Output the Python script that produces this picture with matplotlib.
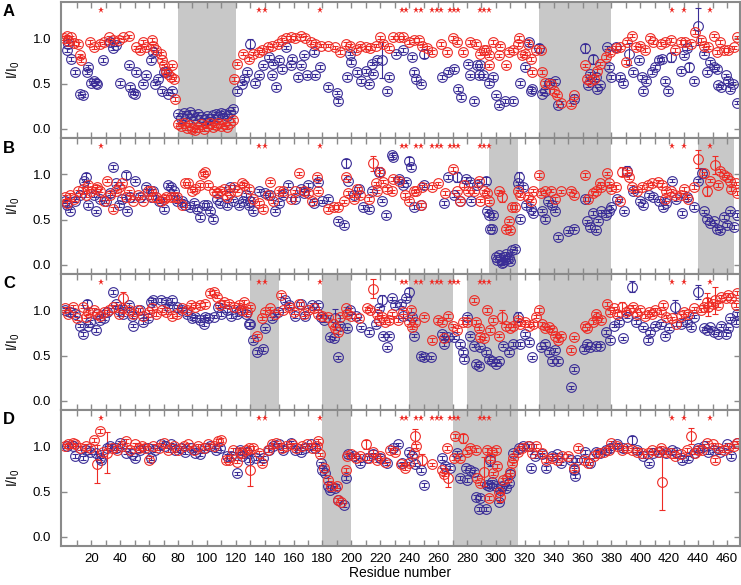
import numpy as np
import matplotlib
matplotlib.use('Agg')
import matplotlib.pyplot as plt

plt.rcParams['font.family'] = ['Liberation Sans', 'DejaVu Sans']
plt.rcParams['mathtext.default'] = 'regular'

blue = '#3a2d96'
red = '#ee2b25'
grey = '#c8c8c8'
frame = '#8a8a8a'

# residues marked with an asterisk (same in every panel)
star_res = [27, 136, 140, 178, 235, 238, 245, 248, 256, 259, 262, 268, 271,
            274, 289, 292, 295, 422, 430, 448]
star_y = 1.31

# shaded residue ranges
shade_A = [(80, 120), (330, 380)]
shade_B = [(295, 315), (330, 380), (440, 465)]
shade_C = [(130, 150), (180, 200), (240, 270), (280, 315), (330, 380)]
shade_D = [(180, 200), (270, 315)]

# ---------------- panel A ----------------
a_blue_res = [3, 4, 6, 9, 12, 14, 17, 18, 20, 22, 23, 24, 28, 33, 35, 37, 40, 46, 47, 49, 50, 51, 56, 58, 61, 63, 64, 66, 69, 70, 72, 73, 76,
              80, 82, 84, 86, 88, 90, 92, 94, 96, 98, 100, 102, 104, 106, 108, 110, 112, 114, 116, 118,
              121, 124, 126, 128, 130, 133, 136, 139, 143, 145, 146, 148, 150, 152, 155, 158, 159, 163, 165, 167, 169, 174, 175, 178,
              184, 190, 191, 197, 199, 200, 204, 207, 210, 212, 214, 215, 218, 221, 225, 226, 231, 236, 242, 243, 245, 248, 250,
              263, 267, 271, 274, 276, 281, 282, 285, 287, 288, 289, 291, 295, 298, 300, 302, 306, 312, 317, 320, 323, 324, 325,
              330, 332, 334, 337, 341, 343, 354, 362, 364, 365, 367, 369, 370, 372, 377, 378, 380, 383, 386, 388, 392, 395, 399,
              401, 402, 404, 408, 410, 413, 415, 417, 419, 421, 428, 430, 432, 434, 437, 440, 444, 446, 448, 451, 453, 454, 456,
              459, 461, 462, 464, 467]
a_blue_val = [0.87, 0.94, 0.77, 0.63, 0.39, 0.37, 0.63, 0.68, 0.51, 0.53, 0.51, 0.50, 0.76, 0.96, 0.89, 0.93, 0.51, 0.70, 0.46, 0.40, 0.39, 0.63, 0.50, 0.59, 0.76, 0.85, 0.50, 0.55, 0.42, 0.63, 0.63, 0.39, 0.42,
              0.16, 0.12, 0.18, 0.14, 0.19, 0.15, 0.12, 0.17, 0.13, 0.10, 0.14, 0.11, 0.15, 0.17, 0.13, 0.18, 0.16, 0.14, 0.19, 0.22,
              0.42, 0.50, 0.55, 0.63, 0.94, 0.51, 0.59, 0.70, 0.79, 0.59, 0.72, 0.46, 0.76, 0.66, 0.90, 0.70, 0.77, 0.57, 0.70, 0.81, 0.59, 0.85, 0.59, 0.68,
              0.46, 0.40, 0.31, 0.57, 0.83, 0.74, 0.63, 0.53, 0.64, 0.50, 0.72, 0.61, 0.76, 0.76, 0.42, 0.57, 0.83, 0.87, 0.79, 0.63, 0.55, 0.50, 0.83,
              0.57, 0.63, 0.66, 0.44, 0.35, 0.72, 0.59, 0.31, 0.70, 0.59, 0.70, 0.59, 0.51, 0.57, 0.37, 0.26, 0.31, 0.31, 0.51, 0.68, 0.96, 0.42, 0.44,
              0.89, 0.39, 0.42, 0.51, 0.53, 0.26, 0.33, 0.89, 0.48, 0.61, 0.77, 0.57, 0.44, 0.48, 0.90, 0.68, 0.57, 0.90, 0.57, 0.51, 0.83, 0.63, 0.76,
              0.57, 0.42, 0.53, 0.63, 0.68, 0.76, 0.77, 0.53, 0.42, 0.79, 0.64, 0.81, 0.89, 0.68, 0.53, 1.13, 0.83, 0.63, 0.74, 0.68, 0.66, 0.48, 0.46,
              0.59, 0.53, 0.44, 0.50, 0.29]
a_blue_err = {130: 0.05, 221: 0.2, 250: 0.05, 330: 0.05, 362: 0.05, 367: 0.05, 392: 0.12, 421: 0.05, 434: 0.05, 440: 0.2}

a_red_res = [1, 3, 4, 6, 8, 11, 12, 13, 19, 22, 26, 29, 32, 35, 39, 42, 46, 51, 54, 56, 58, 62, 63, 65, 68, 69, 70, 72, 73, 75, 76, 77, 78,
             80, 82, 84, 86, 88, 90, 92, 94, 96, 98, 100, 102, 104, 106, 108, 110, 112, 114, 116, 118, 119, 121,
             125, 129, 132, 136, 138, 142, 145, 149, 152, 155, 158, 161, 165, 168, 172, 175, 179, 184, 189, 192, 196, 199, 203,
             206, 210, 213, 217, 220, 222, 226, 229, 233, 236, 240, 243, 247, 249, 252, 256, 262, 266, 270, 273, 277, 282, 286,
             289, 292, 293, 295, 295, 298, 302, 303, 307, 309, 312, 315, 316, 318, 320, 322, 324, 325, 328, 331, 332, 334, 338,
             340, 342, 345, 352, 354, 362, 363, 365, 368, 370, 372, 376, 379, 383, 386, 390, 391, 394, 397, 400, 403, 407, 409,
             414, 417, 421, 424, 428, 431, 435, 438, 442, 444, 447, 451, 453, 455, 458, 461, 465, 467]
a_red_val = [1.00, 1.02, 0.97, 1.01, 0.95, 0.94, 0.81, 0.76, 0.96, 0.90, 0.94, 0.96, 1.01, 0.98, 0.98, 1.01, 1.02, 0.90, 0.87, 0.96, 0.90, 0.98, 0.92, 0.87, 0.83, 0.76, 0.70, 0.64, 0.61, 0.57, 0.70, 0.55, 0.33,
             0.05, 0.03, 0.06, 0.01, 0.04, 0.00, -0.01, 0.02, 0.05, 0.00, 0.03, 0.06, 0.02, 0.04, 0.07, 0.03, 0.05, 0.02, 0.06, 0.10, 0.55, 0.72,
             0.83, 0.77, 0.83, 0.85, 0.87, 0.90, 0.92, 0.94, 0.98, 1.00, 1.01, 1.00, 1.03, 1.00, 0.96, 0.94, 0.92, 0.92, 0.90, 0.85, 0.94, 0.92, 0.87,
             0.92, 0.90, 0.89, 0.92, 1.01, 0.94, 0.89, 1.01, 1.01, 1.01, 0.96, 0.98, 0.98, 0.92, 0.89, 0.85, 0.94, 0.85, 1.00, 0.96, 0.85, 0.96, 0.94,
             0.83, 0.87, 0.87, 0.70, 0.81, 0.96, 0.81, 0.92, 0.70, 0.85, 0.87, 0.94, 1.00, 0.81, 0.83, 0.94, 0.77, 0.63, 0.87, 0.87, 0.63, 0.51, 0.50,
             0.42, 0.37, 0.29, 0.27, 0.37, 0.70, 0.55, 0.53, 0.55, 0.64, 0.72, 0.79, 0.85, 0.89, 0.90, 0.74, 0.96, 1.03, 0.90, 0.92, 0.87, 1.00, 0.96,
             0.94, 0.96, 0.98, 0.87, 0.96, 0.96, 0.94, 1.07, 0.98, 0.92, 0.90, 1.03, 0.85, 0.96, 0.87, 0.87, 0.90, 1.01]
a_red_err = {}

# ---------------- panel B ----------------
b_blue_res = [2, 3, 5, 9, 12, 15, 16, 18, 22, 23, 26, 30, 33, 35, 37, 39, 41, 44, 45, 47, 50, 54, 58, 61, 63, 67, 70, 73, 75, 77, 79,
              83, 85, 88, 91, 93, 95, 98, 100, 102, 104, 107, 109, 114, 116, 118, 122, 125, 127, 129, 130, 132, 136, 140, 144, 147,
              150, 153, 156, 161, 165, 167, 170, 174, 177, 180, 184, 191, 195, 196, 198, 202, 205, 208, 212, 214, 219, 221, 224,
              228, 229, 233, 236, 238, 240, 241, 243, 248, 250, 264, 267, 271, 273, 275, 279, 282, 283, 287, 293, 294, 295, 296,
              297, 298, 300, 301, 302, 303, 304, 305, 306, 307, 308, 309, 310, 311, 313, 315, 316, 317, 319, 321, 324, 326, 332,
              334, 336, 339, 341, 343, 350, 354, 362, 363, 365, 367, 369, 371, 373, 376, 378, 380, 384, 389, 391, 395, 400, 402,
              406, 409, 413, 416, 418, 422, 425, 429, 432, 437, 440, 443, 444, 446, 448, 451, 453, 455, 458, 460, 462, 465, 467]
b_blue_val = [0.70, 0.66, 0.60, 0.71, 0.77, 0.93, 0.97, 0.66, 0.77, 0.59, 0.73, 0.70, 0.79, 1.08, 0.90, 0.66, 0.73, 0.99, 0.60, 0.75, 0.93, 0.75, 0.86, 0.75, 0.82, 0.70, 0.62, 0.88, 0.86, 0.81, 0.70,
              0.71, 0.66, 0.64, 0.68, 0.62, 0.53, 0.66, 0.66, 0.59, 0.51, 0.73, 0.68, 0.66, 0.86, 0.71, 0.66, 0.71, 0.77, 0.66, 0.70, 0.59, 0.82, 0.79, 0.77, 0.60,
              0.68, 0.77, 0.88, 0.73, 0.84, 0.79, 0.88, 0.68, 0.92, 0.70, 0.73, 0.49, 0.44, 1.12, 0.93, 0.77, 0.84, 0.64, 0.62, 0.82, 1.03, 0.71, 0.55,
              1.21, 1.19, 0.95, 0.88, 0.92, 1.15, 1.08, 0.64, 0.66, 0.88, 0.68, 0.97, 0.77, 0.97, 0.71, 0.95, 0.92, 0.71, 0.88, 0.93, 0.60, 0.55, 0.40,
              0.40, 0.55, 0.09, 0.05, 0.11, 0.07, 0.02, 0.03, 0.09, 0.12, 0.06, 0.08, 0.04, 0.16, 0.18, 0.90, 0.97, 0.51, 0.86, 0.66, 0.62, 0.57, 0.60,
              0.51, 0.70, 0.66, 0.60, 0.31, 0.37, 0.40, 0.73, 0.48, 0.42, 0.57, 0.38, 0.49, 0.59, 0.55, 0.59, 0.64, 0.73, 0.59, 1.04, 0.81, 0.71, 0.66,
              0.77, 0.75, 0.71, 0.64, 0.68, 0.93, 0.73, 0.57, 0.75, 0.64, 0.93, 1.01, 0.59, 0.51, 0.46, 0.48, 0.40, 0.38, 0.53, 0.44, 0.59, 0.42, 0.55]
b_blue_err = {16: 0.04, 44: 0.04, 196: 0.05, 219: 0.05, 240: 0.04, 273: 0.06, 293: 0.04, 316: 0.05, 391: 0.05, 443: 0.05}

b_red_res = [2, 3, 5, 8, 11, 14, 16, 18, 20, 23, 24, 26, 29, 31, 33, 35, 37, 39, 41, 44, 46, 49, 52, 56, 59, 61, 63, 65, 68, 70, 72, 75, 77, 79,
             83, 85, 87, 90, 92, 95, 97, 99, 101, 105, 107, 109, 112, 114, 116, 119, 121, 124, 126, 129, 132, 136, 139, 142, 144,
             146, 150, 153, 158, 161, 164, 167, 170, 173, 176, 177, 184, 188, 191, 195, 196, 198, 202, 204, 206, 212, 215, 217,
             218, 220, 222, 225, 228, 229, 233, 237, 240, 243, 245, 248, 249, 256, 260, 265, 270, 273, 275, 278, 281, 285, 288,
             289, 292, 294, 295, 302, 304, 307, 309, 310, 311, 313, 315, 317, 322, 324, 326, 330, 331, 334, 338, 341, 345, 352,
             354, 362, 364, 367, 369, 372, 373, 377, 378, 380, 383, 386, 387, 391, 392, 394, 398, 401, 405, 408, 412, 415, 417,
             418, 421, 424, 428, 430, 433, 437, 440, 444, 446, 448, 452, 454, 455, 458, 460, 462, 463, 466, 467]
b_red_val = [0.75, 0.68, 0.77, 0.73, 0.81, 0.84, 0.77, 0.88, 0.82, 0.84, 0.86, 0.82, 0.70, 0.93, 0.77, 0.62, 0.81, 0.86, 0.90, 0.75, 0.81, 0.71, 0.77, 0.71, 0.81, 0.81, 0.75, 0.75, 0.71, 0.73, 0.75, 0.75, 0.75, 0.75,
             0.66, 0.90, 0.90, 0.82, 0.84, 0.88, 1.00, 1.02, 0.88, 0.82, 0.79, 0.82, 0.84, 0.75, 0.79, 0.86, 0.82, 0.90, 0.88, 0.84, 0.73, 0.68, 0.62, 0.77, 0.92,
             0.70, 0.81, 0.82, 0.73, 0.81, 1.01, 0.82, 0.79, 0.71, 0.97, 0.81, 0.62, 0.64, 0.64, 0.70, 0.97, 0.79, 0.73, 0.84, 0.77, 0.73, 1.12, 0.90,
             0.81, 1.03, 0.92, 0.84, 0.81, 0.95, 0.93, 0.77, 0.71, 0.81, 0.82, 0.66, 0.86, 0.86, 0.90, 0.79, 1.06, 0.81, 0.71, 0.88, 0.81, 0.81, 0.93,
             0.71, 0.81, 0.79, 0.70, 0.81, 0.75, 0.40, 0.49, 0.38, 0.64, 0.64, 0.81, 0.77, 0.75, 0.71, 0.82, 0.99, 0.79, 0.81, 0.82, 0.73, 0.81, 0.82,
             0.77, 0.99, 0.73, 0.79, 0.82, 0.90, 0.86, 1.01, 0.90, 0.84, 0.86, 0.71, 1.03, 1.03, 0.97, 0.86, 0.82, 0.86, 0.88, 0.90, 0.92, 0.88, 0.73,
             0.81, 0.82, 0.77, 0.77, 0.84, 0.73, 0.86, 1.17, 1.01, 0.81, 0.93, 1.10, 0.88, 1.04, 0.99, 0.97, 0.93, 0.84, 0.90, 0.79]
b_red_err = {215: 0.08, 304: 0.06, 387: 0.05, 440: 0.1, 446: 0.05, 452: 0.1}

# ---------------- panel C ----------------
c_blue_res = [2, 5, 9, 12, 14, 17, 18, 19, 23, 24, 26, 29, 31, 35, 37, 39, 42, 46, 48, 49, 54, 56, 59, 61, 63, 68, 72, 74, 76, 79, 83, 86,
              90, 92, 95, 98, 99, 101, 105, 108, 110, 114, 117, 121, 123, 127, 129, 130, 132, 135, 139, 140, 145, 149, 154, 157,
              161, 165, 168, 173, 177, 179, 181, 185, 188, 189, 191, 192, 197, 199, 203, 207, 212, 217, 219, 221, 222, 225, 226,
              228, 230, 234, 236, 238, 240, 242, 243, 248, 250, 255, 263, 264, 267, 271, 275, 277, 278, 280, 282, 285, 286, 288,
              289, 293, 295, 297, 300, 302, 305, 309, 312, 315, 317, 320, 323, 325, 331, 334, 337, 339, 341, 343, 352, 354, 361,
              363, 365, 369, 372, 376, 379, 382, 385, 388, 391, 394, 397, 402, 405, 407, 410, 414, 417, 420, 424, 428, 432, 435,
              437, 440, 444, 446, 448, 451, 454, 456, 459, 461, 462, 466, 467]
c_blue_val = [1.00, 0.98, 0.96, 0.83, 0.74, 1.07, 0.83, 0.87, 0.78, 0.96, 0.89, 0.91, 0.98, 1.20, 1.07, 1.00, 0.96, 1.06, 0.94, 0.83, 1.00, 0.87, 0.91, 1.09, 1.11, 1.11, 1.09, 1.04, 1.11, 1.04, 1.00, 0.96,
              0.91, 0.93, 0.89, 0.85, 0.93, 0.91, 0.93, 1.04, 0.96, 1.00, 0.94, 0.96, 1.00, 0.96, 0.85, 0.85, 0.67, 0.54, 0.57, 0.80, 0.91, 0.98, 1.11, 1.06,
              0.94, 1.07, 0.94, 1.06, 1.06, 0.93, 0.89, 0.70, 0.69, 0.91, 0.48, 0.83, 0.80, 1.00, 0.94, 0.81, 0.76, 0.85, 1.02, 1.11, 0.72, 0.59, 0.72,
              1.13, 1.06, 1.07, 0.94, 1.13, 1.20, 0.93, 0.72, 0.50, 0.48, 0.48, 0.74, 0.63, 0.70, 0.70, 0.63, 0.54, 0.46, 0.93, 0.72, 0.61, 0.41, 0.39,
              0.59, 0.54, 0.46, 0.44, 0.41, 0.44, 0.61, 0.54, 0.63, 0.93, 0.63, 0.74, 0.65, 0.48, 0.59, 0.63, 0.54, 0.44, 0.56, 0.44, 0.15, 0.35, 0.57,
              0.63, 0.59, 0.61, 0.61, 0.76, 0.67, 0.83, 0.87, 0.69, 0.93, 1.26, 0.87, 0.81, 0.67, 0.76, 0.83, 0.85, 0.72, 0.80, 1.04, 0.85, 0.87, 0.81,
              0.93, 1.20, 0.80, 0.78, 0.81, 0.76, 0.74, 0.83, 0.74, 0.80, 0.91, 0.87, 0.96]
c_blue_err = {17: 0.04, 189: 0.1, 221: 0.06, 240: 0.05, 315: 0.05, 394: 0.06, 424: 0.07, 440: 0.08}

c_red_res = [2, 4, 7, 10, 14, 16, 18, 22, 24, 26, 29, 32, 35, 39, 41, 42, 46, 49, 52, 56, 60, 62, 65, 69, 72, 76, 79, 83, 86, 89, 92, 95,
             99, 102, 105, 107, 109, 112, 115, 119, 122, 124, 126, 128, 130, 135, 138, 140, 144, 147, 151, 153, 157, 160, 164,
             167, 170, 174, 177, 180, 184, 187, 189, 191, 192, 196, 197, 200, 205, 211, 213, 215, 218, 219, 221, 223, 226, 228,
             232, 236, 240, 241, 242, 244, 250, 256, 260, 263, 264, 267, 270, 273, 277, 280, 285, 286, 288, 289, 292, 294, 296,
             298, 302, 304, 307, 310, 312, 315, 317, 320, 323, 326, 328, 330, 332, 334, 337, 339, 341, 343, 345, 352, 354, 362,
             363, 367, 369, 370, 373, 377, 379, 382, 384, 387, 390, 392, 395, 398, 400, 403, 406, 408, 410, 414, 416, 418, 422,
             425, 428, 430, 433, 437, 442, 444, 446, 447, 450, 452, 454, 456, 459, 461, 463, 466, 467]
c_red_val = [1.02, 0.96, 1.04, 0.91, 1.04, 0.93, 0.98, 1.00, 0.96, 0.94, 0.98, 1.00, 1.04, 0.96, 1.02, 1.13, 1.00, 0.96, 1.00, 0.94, 0.98, 1.02, 0.96, 1.00, 0.98, 0.94, 0.96, 1.02, 1.00, 1.06, 1.04, 1.06,
             1.07, 1.19, 1.20, 1.15, 1.06, 1.09, 1.07, 1.04, 1.06, 1.00, 1.09, 0.98, 1.04, 0.72, 0.91, 0.98, 1.02, 0.96, 1.17, 1.00, 1.04, 0.98, 1.07,
             0.96, 1.00, 1.02, 0.96, 0.94, 0.93, 0.85, 0.80, 0.76, 0.93, 1.02, 0.96, 0.94, 0.91, 1.02, 1.00, 1.24, 0.96, 0.89, 0.93, 0.87, 0.89, 0.96,
             0.89, 0.98, 0.87, 1.00, 0.81, 0.87, 0.93, 0.67, 0.89, 0.87, 0.69, 0.94, 0.83, 0.78, 0.87, 0.87, 1.11, 0.87, 0.80, 0.70, 0.69, 1.00, 0.78,
             0.89, 0.72, 0.93, 0.83, 0.80, 0.83, 0.89, 0.85, 0.87, 0.83, 0.85, 0.93, 1.00, 0.85, 0.80, 0.81, 0.78, 0.72, 0.67, 0.72, 0.56, 0.70, 0.83,
             0.80, 0.87, 0.96, 0.91, 0.89, 1.07, 0.98, 1.02, 0.96, 1.04, 0.98, 1.00, 1.04, 0.96, 1.00, 0.94, 0.98, 0.96, 1.00, 0.98, 1.06, 0.93, 0.91,
             0.85, 0.94, 0.98, 0.96, 1.02, 1.00, 1.04, 1.09, 1.04, 1.07, 1.11, 1.06, 1.15, 1.13, 1.17, 1.13, 1.06, 1.19]
c_red_err = {42: 0.07, 215: 0.1, 304: 0.07, 387: 0.05, 446: 0.1, 447: 0.1, 452: 0.15}

# ---------------- panel D ----------------
d_blue_res = [3, 7, 9, 14, 16, 19, 23, 26, 27, 31, 33, 37, 40, 44, 48, 50, 54, 59, 61, 64, 68, 71, 75, 78, 82, 85, 89, 92, 95, 99, 102,
              106, 109, 114, 117, 121, 123, 124, 128, 129, 134, 139, 143, 146, 150, 153, 158, 161, 165, 168, 172, 175, 179, 180,
              182, 184, 185, 189, 191, 195, 196, 198, 202, 206, 211, 215, 220, 225, 229, 232, 235, 240, 242, 244, 248, 250, 263,
              265, 268, 273, 275, 279, 280, 282, 285, 286, 288, 289, 293, 294, 295, 296, 297, 300, 302, 303, 304, 307, 309, 310,
              312, 316, 319, 323, 324, 327, 332, 335, 339, 342, 345, 352, 354, 355, 356, 362, 365, 369, 372, 376, 379, 384, 388,
              394, 398, 402, 406, 409, 413, 418, 422, 425, 429, 433, 437, 440, 444, 447, 451, 455, 460, 463, 467]
d_blue_val = [1.00, 1.00, 0.89, 0.87, 0.96, 0.94, 0.93, 0.87, 0.85, 0.98, 1.00, 0.98, 1.04, 0.93, 0.91, 0.87, 0.96, 0.98, 0.87, 0.96, 1.02, 1.00, 1.02, 0.96, 0.98, 0.94, 0.98, 0.93, 0.91, 0.98, 1.00,
              0.96, 0.98, 0.89, 0.89, 0.70, 0.96, 0.89, 0.94, 0.85, 0.87, 0.87, 0.96, 1.00, 1.02, 0.96, 1.04, 0.96, 0.94, 0.98, 1.02, 0.98, 0.81, 0.74,
              0.70, 0.56, 0.52, 0.54, 0.41, 0.35, 0.65, 0.91, 0.89, 0.81, 0.87, 0.91, 0.87, 0.81, 0.98, 1.02, 0.81, 0.94, 0.89, 0.80, 0.74, 0.57, 0.87,
              0.78, 0.76, 0.93, 0.65, 0.76, 0.63, 0.74, 0.72, 0.44, 0.31, 0.43, 0.31, 0.57, 0.56, 0.85, 0.61, 0.56, 0.39, 0.52, 0.56, 0.54, 0.59, 0.69,
              0.93, 0.98, 1.00, 1.00, 0.76, 0.89, 0.91, 0.76, 0.89, 0.91, 0.81, 0.85, 0.74, 0.67, 0.85, 0.94, 0.81, 0.94, 0.93, 0.96, 0.98, 1.02, 0.98,
              1.07, 0.96, 0.89, 0.81, 0.93, 0.94, 0.93, 0.96, 0.94, 0.85, 0.87, 0.93, 0.98, 1.00, 0.94, 0.96, 0.94, 1.02, 0.89, 1.04]
d_blue_err = {296: 0.07, 394: 0.04}

d_red_res = [2, 4, 7, 9, 12, 16, 19, 22, 24, 26, 28, 31, 34, 38, 41, 44, 47, 50, 53, 55, 57, 60, 63, 67, 70, 73, 77, 80, 84, 87, 91, 94,
             98, 101, 105, 108, 110, 113, 115, 118, 121, 123, 124, 127, 129, 130, 132, 136, 138, 142, 145, 148, 152, 155, 159, 162,
             166, 169, 173, 176, 177, 178, 181, 184, 186, 190, 191, 193, 196, 197, 200, 203, 206, 210, 212, 215, 218, 220, 223,
             227, 230, 234, 237, 240, 243, 244, 245, 249, 256, 263, 264, 266, 267, 271, 272, 275, 277, 280, 282, 286, 287, 289,
             292, 294, 295, 296, 297, 298, 300, 301, 302, 303, 305, 308, 310, 311, 312, 315, 318, 322, 325, 328, 332, 335, 339,
             342, 346, 350, 354, 357, 361, 364, 368, 371, 375, 378, 380, 384, 387, 391, 394, 398, 401, 405, 408, 412, 414, 415,
             417, 421, 424, 428, 432, 435, 438, 440, 443, 446, 450, 452, 454, 458, 461, 465, 467]
d_red_val = [1.00, 1.02, 1.04, 1.02, 0.98, 1.00, 0.98, 1.07, 0.80, 1.17, 0.94, 0.93, 0.98, 0.96, 1.00, 1.06, 0.96, 1.02, 0.98, 1.00, 0.98, 0.85, 1.00, 0.98, 1.04, 0.96, 1.00, 0.96, 1.00, 1.02, 0.96, 1.00,
             0.98, 1.02, 1.00, 1.06, 1.07, 0.85, 0.85, 0.96, 0.83, 0.94, 0.93, 0.96, 0.98, 0.74, 0.98, 0.93, 0.81, 0.96, 1.02, 1.04, 0.98, 1.00, 1.02, 0.98,
             1.00, 1.02, 0.98, 1.00, 1.06, 0.91, 0.76, 0.63, 0.56, 0.56, 0.41, 0.39, 0.74, 0.89, 0.91, 0.87, 0.89, 1.02, 0.87, 0.94, 0.85, 0.89, 0.83,
             0.96, 0.94, 0.80, 0.76, 0.81, 0.93, 1.11, 1.00, 0.85, 0.80, 0.74, 0.69, 0.98, 0.65, 0.87, 1.11, 0.87, 1.09, 0.94, 0.98, 0.96, 0.65, 0.59,
             0.72, 0.96, 0.43, 0.87, 0.94, 0.70, 0.96, 0.78, 0.50, 0.44, 0.63, 0.65, 0.72, 0.81, 0.87, 0.94, 0.98, 1.00, 0.93, 1.00, 0.93, 0.85, 0.87,
             0.85, 0.89, 0.89, 0.76, 0.98, 0.85, 0.81, 0.89, 0.93, 0.94, 0.96, 1.04, 1.00, 0.96, 0.98, 0.96, 0.94, 0.93, 0.93, 0.96, 0.94, 0.98, 0.61,
             0.94, 0.93, 0.89, 0.91, 0.96, 1.11, 0.93, 0.96, 0.96, 1.04, 1.02, 0.85, 0.98, 0.96, 0.98, 1.00, 1.04]
d_red_err = {24: 0.21, 31: 0.23, 130: 0.18, 210: 0.05, 244: 0.08, 249: 0.06, 267: 0.1, 277: 0.05,
             292: 0.16, 303: 0.06, 415: 0.31, 435: 0.09}

panels = [
    ('A', shade_A, a_blue_res, a_blue_val, a_blue_err, a_red_res, a_red_val, a_red_err),
    ('B', shade_B, b_blue_res, b_blue_val, b_blue_err, b_red_res, b_red_val, b_red_err),
    ('C', shade_C, c_blue_res, c_blue_val, c_blue_err, c_red_res, c_red_val, c_red_err),
    ('D', shade_D, d_blue_res, d_blue_val, d_blue_err, d_red_res, d_red_val, d_red_err),
]

fig = plt.figure(figsize=(7.41, 5.85), dpi=100)
left = 61 / 741
width = 679 / 741
h = 136 / 585
bottoms = [1 - 138 / 585, 1 - 274 / 585, 1 - 410 / 585, 1 - 546 / 585]

for i, (letter, shades, br, bv, be, rr, rv, re) in enumerate(panels):
    ax = fig.add_axes([left, bottoms[i], width, h])
    for lo, hi in shades:
        ax.axvspan(lo, hi, color=grey, lw=0, zorder=0)
    for res, val, big, col in [(br, bv, be, blue), (rr, rv, re, red)]:
        err = [big.get(r, 0.02) for r in res]
        ax.errorbar(res, val, yerr=err, fmt='o', ms=7, mfc='none', mec=col, mew=0.8,
                    ecolor=col, elinewidth=0.8, capsize=2.5, capthick=0.8, zorder=2)
    ax.plot(star_res, [star_y] * len(star_res), '*', color=red, ms=5, mew=0, zorder=3)

    ax.set_xlim(-1, 469)
    ax.set_ylim(-0.1, 1.4)
    ax.set_yticks([0, 0.5, 1.0])
    ax.set_yticklabels(['0.0', '0.5', '1.0'])
    ax.set_xticks(np.arange(20, 461, 20))
    ax.set_xticks(np.arange(10, 470, 20), minor=True)
    ax.tick_params(which='both', direction='in', top=True, right=True, length=4,
                   width=1, color=frame, labelsize=9.5, pad=7)
    for s in ax.spines.values():
        s.set_color(frame)
        s.set_linewidth(1.5)
    ax.set_ylabel('I/I$_0$', fontsize=10)
    ax.yaxis.set_label_coords(-0.057, 0.5)
    if letter != 'D':
        ax.tick_params(labelbottom=False)
    else:
        ax.tick_params(axis='x', pad=5)
        ax.set_xlabel('Residue number', fontsize=10, labelpad=1)
    fig.text(0.004, bottoms[i] + h - 10 / 585, letter, fontsize=12, fontweight='bold',
             va='center', ha='left')

fig.savefig('out.png', dpi=100)
